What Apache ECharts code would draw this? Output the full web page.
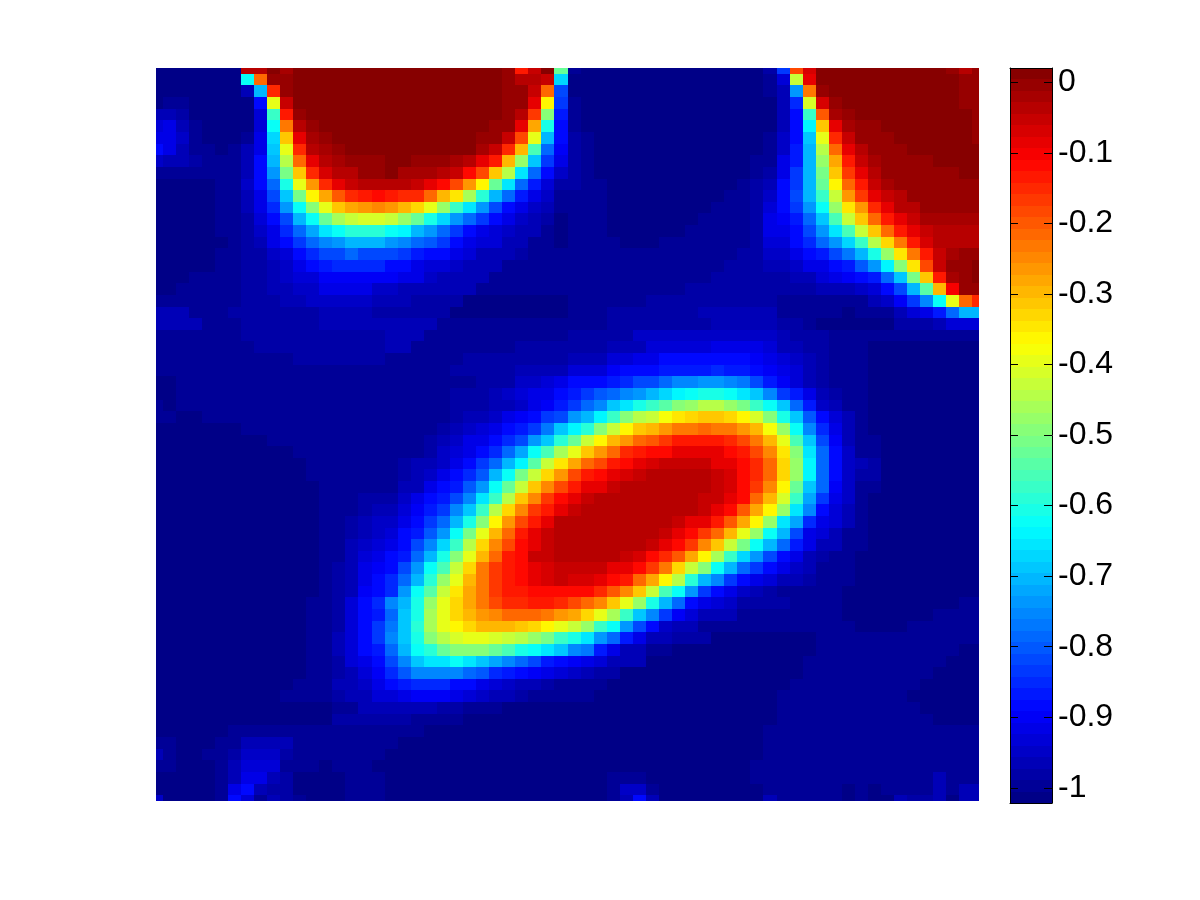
<!DOCTYPE html>
<html><head><meta charset="utf-8"><style>html,body{margin:0;padding:0;background:#fff}#c{width:1200px;height:900px}</style>
<script src="https://cdn.jsdelivr.net/npm/echarts@6/dist/echarts.min.js"></script></head><body><div id="c"></div>
<script>
// Depth below zero, in hundredths: a cell's value is -depth/100. Rows run top to bottom, columns left to right.
const depthRows = [
[102,102,102,102,102,102,102,3,4,-2,2,-2,-2,-2,-2,-2,-2,-2,-2,-2,-2,-2,-2,-2,-2,-2,-2,0,14,6,-1,52,100,102,102,102,102,102,102,102,102,102,102,102,102,102,102,98,84,18,7,-2,-2,-2,-2,-2,-2,-2,-2,-2,-2,0,4,1],
[102,102,102,102,102,102,102,63,21,0,0,-2,-2,-2,-2,-2,-2,-2,-2,-2,-2,-2,-2,-2,-2,-2,-2,0,3,4,6,67,102,102,102,102,102,102,102,102,102,102,102,102,102,102,102,99,93,42,9,-2,-2,-2,-2,-2,-2,-2,-2,-2,-2,-1,1,1],
[102,102,102,102,102,102,102,97,70,15,1,-2,-2,-2,-2,-2,-2,-2,-2,-2,-2,-2,-2,-2,-2,-2,-2,0,1,6,21,81,102,102,102,102,102,102,102,102,102,102,102,102,102,102,102,100,97,74,23,1,-2,-2,-2,-2,-2,-2,-2,-2,-2,-1,0,0],
[102,100,100,101,101,101,101,102,89,39,5,-2,-2,-2,-2,-2,-2,-2,-2,-2,-2,-2,-2,-2,-2,-2,-2,0,1,9,37,84,100,102,102,102,102,102,102,102,102,102,102,102,102,102,102,101,96,85,41,7,0,-2,-2,-2,-2,-2,-2,-2,-2,-2,0,0],
[96,96,98,101,101,101,101,102,93,57,13,1,-2,-2,-2,-2,-2,-2,-2,-2,-2,-2,-2,-2,-2,-2,-2,0,4,16,50,86,100,102,102,102,102,102,102,102,102,102,102,102,102,102,102,101,96,88,57,20,2,0,-2,-2,-2,-2,-2,-2,-2,-2,-2,0],
[93,92,96,100,101,101,101,101,93,63,23,4,0,-2,-2,-2,-2,-2,-2,-2,-2,-2,-2,-2,-2,-2,0,1,9,28,61,88,99,102,102,102,102,102,102,102,102,102,102,102,102,102,102,102,96,88,64,31,9,2,0,0,-2,-2,-2,-2,-2,-2,-2,0],
[92,92,95,99,101,101,101,100,92,67,31,9,2,0,-2,-2,-2,-2,-2,-2,-2,-2,-2,-2,-2,0,1,6,18,40,70,89,98,100,102,102,102,102,102,102,102,102,102,102,102,102,102,100,95,88,69,39,15,5,1,0,0,-2,-2,-2,-2,-2,-2,0],
[89,91,96,99,99,101,99,97,91,69,39,15,4,2,0,-2,-2,-2,-2,-2,-2,-2,-2,-2,-1,2,6,15,30,56,78,90,98,100,102,102,102,102,102,102,102,102,102,102,102,102,102,100,95,87,71,44,22,9,3,1,0,0,-2,-2,-2,-2,-2,-2],
[95,96,96,98,99,99,99,97,89,71,44,22,9,4,2,0,0,0,-2,-2,0,0,0,2,3,8,14,29,47,68,83,92,98,100,102,102,102,102,102,102,102,102,102,102,102,102,100,99,92,86,71,47,28,13,6,2,1,0,0,0,-2,-2,-2,-2],
[99,99,99,99,99,99,99,96,89,74,51,31,15,7,4,3,1,1,-1,2,2,2,3,5,11,19,31,45,65,78,89,95,98,100,102,102,102,102,102,102,102,102,102,102,102,101,100,98,91,84,70,51,31,17,9,4,1,0,0,0,0,0,-1,-1],
[102,102,102,102,102,99,99,95,89,79,61,40,27,15,9,6,4,4,4,4,5,8,11,18,26,37,52,65,78,86,93,98,98,100,100,102,102,102,102,102,102,102,102,102,102,100,98,97,89,83,71,53,37,22,13,5,2,1,0,0,0,0,0,0],
[102,102,102,102,102,100,100,96,91,81,68,51,37,28,20,15,13,11,13,15,15,21,29,35,46,59,70,79,87,91,95,99,100,100,100,102,102,102,102,102,102,102,102,102,100,100,98,95,89,82,71,57,42,27,17,9,5,3,1,1,0,0,0,0],
[102,102,102,102,102,100,100,96,92,85,74,63,49,39,32,28,26,25,27,29,33,40,48,58,66,74,81,88,91,95,96,100,100,100,100,102,102,102,102,102,102,102,102,100,100,100,98,93,89,84,74,62,47,35,26,15,9,4,3,1,1,1,1,1],
[102,102,102,102,102,100,100,98,94,89,81,71,62,53,46,43,41,41,43,47,53,61,67,73,78,84,89,92,95,96,98,101,100,100,100,102,102,102,102,102,102,102,100,100,100,100,98,92,90,86,78,68,56,43,32,22,14,9,5,2,2,2,2,2],
[102,102,102,102,102,100,100,98,95,91,85,78,72,66,62,59,59,59,63,64,70,74,79,84,88,91,93,95,96,97,100,101,100,100,100,102,102,102,102,102,102,99,99,99,99,99,98,92,91,88,81,74,65,55,43,32,22,14,9,5,3,3,3,4],
[102,102,102,102,102,101,100,98,96,92,89,84,79,75,73,70,70,71,73,75,78,80,84,88,91,93,94,96,97,99,99,101,100,100,100,100,102,102,102,99,99,99,99,99,99,99,98,93,93,89,85,79,73,67,57,44,33,23,14,7,4,3,3,3],
[102,102,102,102,102,100,100,98,98,95,93,89,85,82,81,79,81,81,81,83,86,88,89,92,94,96,96,96,98,100,100,100,100,100,100,100,100,100,100,100,100,100,100,100,100,98,98,95,95,92,89,86,82,77,70,61,48,34,23,13,5,2,0,0],
[102,102,102,102,102,100,100,98,98,96,95,91,89,87,85,85,85,85,88,89,91,93,93,95,96,96,97,99,99,99,99,99,100,100,100,100,100,100,100,100,100,100,100,100,98,98,98,96,96,95,92,91,89,86,80,74,64,50,34,19,6,1,0,-2],
[102,102,102,100,100,100,100,98,98,97,95,93,93,90,90,90,90,90,90,92,92,95,97,97,97,97,100,100,100,100,100,100,100,100,100,100,100,100,100,100,100,100,100,98,98,98,98,98,98,96,96,94,92,90,89,86,78,68,51,32,14,2,0,-1],
[102,102,100,100,100,100,100,98,98,96,96,95,95,92,92,92,92,95,95,96,96,96,97,97,97,100,100,100,100,100,100,100,100,100,100,100,100,100,100,100,100,98,98,98,98,98,98,98,98,98,98,97,97,97,95,93,89,82,71,54,30,10,1,0],
[99,99,99,99,99,99,99,98,98,98,97,96,95,95,95,95,95,96,96,96,98,98,98,98,101,101,101,101,101,101,101,101,100,100,100,100,100,100,98,98,98,98,98,98,98,98,98,98,99,99,99,99,99,99,99,97,95,90,84,75,62,40,22,15],
[96,96,96,99,99,99,98,98,98,98,98,98,98,96,96,96,96,98,98,98,98,98,98,101,101,101,101,101,101,101,101,101,100,100,100,98,98,98,98,98,98,98,97,97,97,97,97,97,100,100,100,100,100,102,99,99,99,96,94,91,86,78,71,71],
[97,97,97,97,99,99,99,98,98,98,98,98,98,97,97,97,97,97,97,97,97,97,100,100,100,100,100,100,100,100,100,100,100,100,100,98,98,98,98,98,98,98,98,96,96,96,96,96,98,98,100,101,101,101,101,101,101,98,98,98,96,93,93,93],
[99,99,99,99,99,99,99,98,98,98,98,98,98,98,98,98,98,98,97,97,97,100,100,100,100,100,100,100,100,100,100,100,98,98,98,98,98,95,95,95,95,95,95,95,95,95,95,95,96,98,98,98,99,99,99,99,99,99,99,99,99,99,99,99],
[99,99,99,99,99,99,99,99,98,98,98,98,98,98,98,98,98,98,97,97,100,100,100,100,100,100,100,100,98,98,98,98,98,98,98,96,96,96,94,94,94,94,94,92,92,92,92,94,96,97,98,98,100,100,100,102,102,102,102,102,102,102,102,102],
[99,99,99,99,99,99,99,99,99,99,99,98,98,98,98,98,98,98,100,100,100,100,100,100,98,98,98,98,98,98,98,98,96,96,96,94,94,92,92,89,89,89,89,89,89,89,90,92,94,95,97,98,100,100,100,102,102,102,102,102,102,102,102,102],
[100,100,100,100,100,100,100,100,100,100,100,100,100,100,100,100,100,100,100,100,100,100,100,98,98,98,98,98,96,96,96,96,94,94,93,90,89,88,88,86,86,86,86,85,86,86,88,90,92,94,96,98,99,100,100,102,102,102,102,102,102,102,102,102],
[102,102,100,100,100,100,100,100,100,100,100,100,100,100,100,100,100,100,100,100,100,100,100,100,100,98,98,98,95,95,94,91,89,89,89,87,85,82,81,78,76,75,74,74,75,77,81,86,90,93,96,98,99,100,100,102,102,102,102,102,102,102,102,102],
[102,102,100,100,100,100,100,100,100,100,100,100,100,100,100,100,100,100,100,100,100,100,100,98,98,98,96,95,94,92,91,89,87,84,80,78,75,73,71,67,64,62,61,61,62,65,69,75,83,86,92,96,98,100,100,102,102,102,102,102,102,102,102,102],
[100,102,100,100,100,100,100,100,100,100,100,100,100,100,100,100,100,100,100,100,100,100,100,98,98,98,97,96,95,92,90,87,83,79,75,68,65,61,58,54,50,47,45,45,47,51,57,62,69,78,87,95,97,99,100,102,102,102,102,102,102,102,102,102],
[100,100,101,101,100,100,100,100,100,100,100,100,100,100,100,100,100,100,100,100,100,100,99,98,97,96,95,92,90,89,84,81,74,70,64,57,50,45,42,38,35,33,31,31,33,37,41,50,61,69,80,89,93,97,100,102,102,102,102,102,102,102,102,102],
[102,102,102,102,102,102,102,100,100,100,100,100,100,100,100,100,100,100,100,100,100,100,98,97,95,93,91,89,87,83,77,69,64,59,50,43,37,32,29,26,23,23,21,23,24,26,30,38,47,62,75,85,91,96,100,102,102,102,102,102,102,102,102,102],
[102,102,102,102,102,102,102,102,102,100,100,100,100,100,100,100,100,100,100,100,100,98,96,95,92,91,89,85,82,74,68,59,52,43,37,30,26,21,20,16,14,13,13,13,15,19,24,30,40,55,69,81,90,96,99,99,102,102,102,102,102,102,102,102],
[102,102,102,102,102,102,102,102,102,102,102,100,100,100,100,100,100,100,100,100,100,98,95,93,91,89,85,78,72,63,55,46,39,31,26,21,15,14,11,11,9,9,9,9,11,13,18,25,34,50,66,78,89,95,99,99,102,102,102,102,102,102,102,102],
[102,102,102,102,102,102,102,102,102,102,102,102,100,100,100,100,100,99,100,98,97,96,95,91,89,84,78,71,64,54,43,35,28,21,19,13,11,9,7,5,5,5,5,8,9,11,15,22,33,47,64,78,89,95,97,98,102,102,102,102,102,102,102,102],
[102,102,102,102,102,102,102,102,102,102,102,102,100,100,100,100,100,99,100,98,96,95,92,89,85,80,71,63,51,42,33,26,19,14,11,9,7,5,4,4,4,4,4,5,7,11,15,22,33,47,64,78,89,95,98,98,102,102,102,102,102,102,102,102],
[102,102,102,102,102,102,102,102,102,102,102,102,102,100,100,100,100,99,99,97,96,92,89,87,80,73,63,52,43,32,25,18,13,9,8,5,4,4,4,3,4,4,4,5,7,11,17,25,37,52,68,79,90,95,99,99,102,102,102,102,102,102,102,102],
[102,102,102,102,102,102,102,102,102,102,102,102,102,100,100,100,98,98,98,95,92,89,86,82,75,66,57,44,32,25,17,12,9,5,4,4,3,3,3,3,3,3,5,6,8,12,21,30,41,58,72,84,91,95,99,102,102,102,102,102,102,102,102,102],
[102,102,102,102,102,102,102,102,102,102,102,102,102,100,100,100,98,97,97,93,90,87,83,75,69,58,45,33,25,17,13,9,5,4,4,3,3,3,3,3,3,3,6,8,12,20,28,37,47,65,76,88,93,97,99,102,102,102,102,102,102,102,102,102],
[102,102,102,102,102,102,102,102,102,102,102,102,102,100,100,98,97,95,95,91,89,83,78,70,61,49,37,27,19,13,8,4,4,3,3,3,3,3,3,4,5,8,9,14,20,28,37,47,65,72,85,92,94,97,99,102,102,102,102,102,102,102,102,102],
[102,102,102,102,102,102,102,102,102,102,102,102,102,100,100,98,97,95,93,89,86,80,73,63,51,40,30,21,14,8,5,4,3,3,3,3,3,3,4,5,8,11,16,21,30,39,47,62,71,81,91,94,96,99,99,102,102,102,102,102,102,102,102,102],
[102,102,102,102,102,102,102,102,102,102,102,102,102,100,100,97,95,93,91,88,82,76,67,58,44,33,25,18,12,9,5,4,4,3,3,3,3,3,5,8,12,17,25,32,42,51,63,71,79,86,92,96,97,99,99,102,102,102,102,102,102,102,102,102],
[102,102,102,102,102,102,102,102,102,102,102,102,102,100,100,97,94,92,89,86,78,70,61,49,39,29,21,14,11,6,5,4,4,4,4,4,5,7,11,15,20,28,37,46,57,67,74,81,89,92,96,98,99,99,102,102,102,102,102,102,102,102,102,102],
[102,102,102,102,102,102,102,102,102,102,102,102,102,100,98,96,92,90,89,82,73,63,56,43,33,24,17,13,11,9,7,6,5,5,6,8,9,12,17,24,33,42,50,63,71,78,84,89,92,95,97,99,99,99,102,102,102,102,102,102,102,102,102,102],
[102,102,102,102,102,102,102,102,102,102,102,102,102,100,98,96,91,89,85,78,70,59,47,39,29,23,17,13,11,9,7,6,7,7,9,11,14,21,28,37,45,59,70,75,83,88,91,94,96,97,98,100,99,99,102,102,102,102,102,102,102,102,102,102],
[102,102,102,102,102,102,102,102,102,102,102,102,102,100,98,96,90,88,85,74,63,54,43,35,28,23,17,14,13,11,11,11,11,12,15,20,25,32,42,55,63,73,84,89,92,95,96,98,100,100,100,100,99,102,102,102,102,102,102,102,102,102,102,102],
[102,102,102,102,102,102,102,102,102,102,102,102,100,100,98,94,89,85,76,70,61,48,40,33,28,23,19,15,15,14,14,15,18,22,25,32,39,47,61,70,79,88,91,93,95,98,98,98,98,100,100,100,99,102,102,102,102,102,102,102,102,102,100,100],
[102,102,102,102,102,102,102,102,102,102,102,102,100,100,98,94,89,86,78,68,60,46,40,33,29,26,25,22,22,22,24,26,28,33,39,46,57,68,76,84,90,94,96,96,96,99,99,100,100,100,100,100,99,102,102,102,102,102,102,102,100,100,100,100],
[102,102,102,102,102,102,102,102,102,102,102,102,100,100,98,94,89,84,77,68,59,46,40,37,33,30,30,30,31,33,36,40,43,47,57,63,74,82,89,95,97,97,100,100,100,100,100,100,100,100,100,100,99,99,102,102,102,102,100,100,100,100,100,100],
[102,102,102,102,102,102,102,102,102,102,102,102,100,100,97,94,89,84,75,68,61,50,45,41,40,40,41,43,44,47,51,57,61,65,74,79,87,91,96,97,98,98,98,102,102,102,102,102,102,102,102,100,100,100,100,100,100,100,100,100,100,100,100,100],
[102,102,102,102,102,102,102,102,102,102,102,102,100,100,97,94,89,86,78,71,63,59,53,50,50,50,53,55,60,62,65,69,75,77,87,92,96,96,99,99,102,102,102,102,102,102,102,102,102,102,102,100,100,100,100,100,100,100,100,100,100,100,102,102],
[102,102,102,102,102,102,102,102,102,102,102,102,100,100,98,94,92,88,81,75,69,66,65,63,66,69,72,75,79,82,86,89,90,91,94,97,97,97,102,102,102,102,102,102,102,102,102,102,102,102,100,100,100,100,100,100,100,100,100,100,100,102,102,102],
[102,102,102,102,102,102,102,102,102,102,102,102,100,100,98,96,94,90,85,80,75,75,75,75,79,80,85,86,89,90,92,94,95,96,98,98,102,102,102,102,102,102,102,102,102,102,102,102,102,102,100,100,100,100,100,100,100,100,100,100,102,102,102,102],
[102,102,102,102,102,102,102,102,102,102,102,100,100,100,97,96,95,91,89,87,85,85,85,88,89,91,93,95,96,97,98,99,99,99,100,102,102,102,102,102,102,102,102,102,102,102,102,102,102,100,100,100,100,100,100,100,100,100,100,102,102,102,102,102],
[102,102,102,102,102,102,102,102,102,102,100,100,100,99,98,97,96,94,93,91,90,90,90,92,94,95,96,97,98,99,100,100,100,100,102,102,102,102,102,102,102,102,102,102,102,102,102,102,100,100,100,100,100,100,100,100,100,100,102,102,102,102,102,102],
[102,102,102,102,102,102,102,102,102,102,101,101,101,101,99,99,97,97,97,97,97,97,98,98,100,100,100,102,102,102,102,102,102,102,102,102,102,102,102,102,102,102,102,102,102,102,102,102,100,100,100,100,100,100,100,100,100,100,100,102,102,102,102,102],
[102,102,102,102,102,102,102,102,101,101,101,101,101,101,98,98,98,98,98,98,99,99,99,99,102,102,102,102,102,102,102,102,102,102,102,102,102,102,102,102,102,102,102,102,102,102,102,102,100,100,100,99,99,100,100,100,100,100,100,100,102,102,102,102],
[102,102,102,102,102,102,100,100,100,100,100,100,100,100,100,100,100,100,100,100,100,102,102,102,102,102,102,102,102,102,102,102,102,102,102,102,102,102,102,102,102,102,102,102,102,102,102,100,100,100,99,99,99,99,100,100,100,100,100,100,100,100,100,100],
[99,99,102,102,102,100,100,97,97,97,97,99,99,99,99,99,99,99,99,102,102,102,102,102,102,102,102,102,102,102,102,102,102,102,102,102,102,102,102,102,102,102,102,102,102,102,102,100,100,99,99,99,99,99,100,100,100,100,100,100,100,100,100,100],
[96,99,102,102,100,100,98,95,95,95,98,100,100,100,100,100,100,100,102,102,102,102,102,102,102,102,102,102,102,102,102,102,102,102,102,102,102,102,102,102,102,102,102,102,102,102,102,100,100,99,99,99,99,100,100,100,100,100,99,99,99,99,99,99],
[99,99,102,102,102,99,97,94,94,94,99,100,100,101,100,100,100,102,102,102,102,102,102,102,102,102,102,102,102,102,102,102,102,102,102,102,102,102,102,102,102,102,102,102,102,102,100,100,99,99,99,99,100,100,100,100,100,100,99,99,99,99,99,99],
[102,102,102,102,102,99,96,92,92,96,98,101,102,102,102,100,100,100,102,102,102,102,102,102,102,102,102,102,102,102,102,102,102,102,102,99,99,99,102,102,102,102,102,102,102,102,100,100,99,99,99,99,100,100,100,100,100,99,99,99,97,99,99,99],
[102,102,102,102,102,99,92,89,97,98,98,102,102,102,102,100,100,100,102,102,102,102,102,102,102,102,102,102,102,102,102,102,102,102,102,99,95,95,99,102,102,102,102,102,102,102,102,99,99,99,99,100,100,102,100,102,100,99,99,100,97,99,96,96],
[95,102,102,102,102,99,89,94,100,97,98,100,102,102,102,100,100,100,102,102,102,102,102,102,102,102,102,102,102,102,102,102,102,102,102,99,96,89,97,102,102,102,102,102,102,102,102,97,99,99,99,99,100,102,100,102,102,96,98,98,97,102,96,96]
];
const colorbarTicks = [-1,-0.9,-0.8,-0.7,-0.6,-0.5,-0.4,-0.3,-0.2,-0.1,0];
const colorMin = -1.0215, colorMax = 0.0203, colorLevels = 64;

function jet(t){
  const f=(a)=>Math.round(255*Math.max(0,Math.min(1,a)));
  const r=f(Math.min(4*t-1.5,-4*t+4.5)), g=f(Math.min(4*t-0.5,-4*t+3.5)), b=f(Math.min(4*t+0.5,-4*t+2.5));
  return 'rgb('+r+','+g+','+b+')';
}
function levelColor(level){ return jet((level+0.5)/colorLevels); }
function valueColor(v){
  const lv=Math.max(0,Math.min(colorLevels-1,Math.floor((v-colorMin)/(colorMax-colorMin)*colorLevels)));
  return levelColor(lv);
}
const cellData=[];
depthRows.forEach((row,r)=>{ if(row.length!==64) console.error('row',r,row.length); row.forEach((d,c)=>cellData.push([c,r,-d/100])); });
const barData=[];
for(let i=0;i<colorLevels;i++) barData.push([i,colorMin+(colorMax-colorMin)*i/colorLevels,colorMin+(colorMax-colorMin)*(i+1)/colorLevels]);

const labelFmt=(v)=>{const n=Math.round(v*10)/10; return (n===0)?'0':(n===-1)?'-1':n.toFixed(1);};
const chart=echarts.init(document.getElementById('c'),null,{renderer:'canvas',width:1200,height:900});
const line={show:true,onZero:false,lineStyle:{color:'#000',width:1}};
chart.setOption({
  animation:false,backgroundColor:'#fff',
  grid:[{left:156,top:68,width:823,height:733},{left:1010,top:68,width:42,height:735}],
  xAxis:[
    {gridIndex:0,type:'value',min:0,max:63,show:false},
    {gridIndex:1,type:'value',min:0,max:1,position:'bottom',z:10,axisLine:line,axisTick:{show:false},axisLabel:{show:false},splitLine:{show:false}},
    {gridIndex:1,type:'value',min:0,max:1,position:'top',z:10,axisLine:line,axisTick:{show:false},axisLabel:{show:false},splitLine:{show:false}}
  ],
  yAxis:[
    {gridIndex:0,type:'value',min:0,max:63,inverse:true,show:false},
    {gridIndex:1,type:'value',min:colorMin,max:colorMax,position:'right',z:10,axisLine:line,splitLine:{show:false},
     axisTick:{show:true,inside:true,length:8,customValues:colorbarTicks,lineStyle:{color:'#000',width:1}},
     axisLabel:{show:true,inside:false,margin:6,padding:[3,0,0,0],customValues:colorbarTicks,formatter:labelFmt,color:'#000',fontFamily:'Liberation Sans',fontSize:32}},
    {gridIndex:1,type:'value',min:colorMin,max:colorMax,position:'left',z:10,axisLine:line,splitLine:{show:false},
     axisTick:{show:true,inside:true,length:8,customValues:colorbarTicks,lineStyle:{color:'#000',width:1}},
     axisLabel:{show:false}}
  ],
  series:[
    {type:'custom',coordinateSystem:'cartesian2d',xAxisIndex:0,yAxisIndex:0,clip:true,silent:true,data:cellData,encode:{x:0,y:1},
     renderItem:(p,api)=>{
       const c=api.value(0),r=api.value(1);
       const a=api.coord([c-0.5,r-0.5]),b=api.coord([c+0.5,r+0.5]);
       const x0=Math.max(156,Math.round(a[0])),y0=Math.max(68,Math.round(a[1])),x1=Math.min(979,Math.round(b[0])),y1=Math.min(801,Math.round(b[1]));
       return {type:'rect',shape:{x:x0,y:y0,width:x1-x0,height:y1-y0},style:{fill:valueColor(api.value(2))}};
     }},
    {type:'custom',coordinateSystem:'cartesian2d',xAxisIndex:1,yAxisIndex:1,silent:true,data:barData,encode:{y:[1,2]},
     renderItem:(p,api)=>{
       const a=api.coord([0,api.value(2)]),b=api.coord([1,api.value(1)]);
       const y0=Math.round(a[1]),y1=Math.round(b[1]);
       return {type:'rect',shape:{x:a[0],y:y0,width:b[0]-a[0],height:y1-y0},style:{fill:levelColor(api.value(0))}};
     }}
  ]
});
</script></body></html>
